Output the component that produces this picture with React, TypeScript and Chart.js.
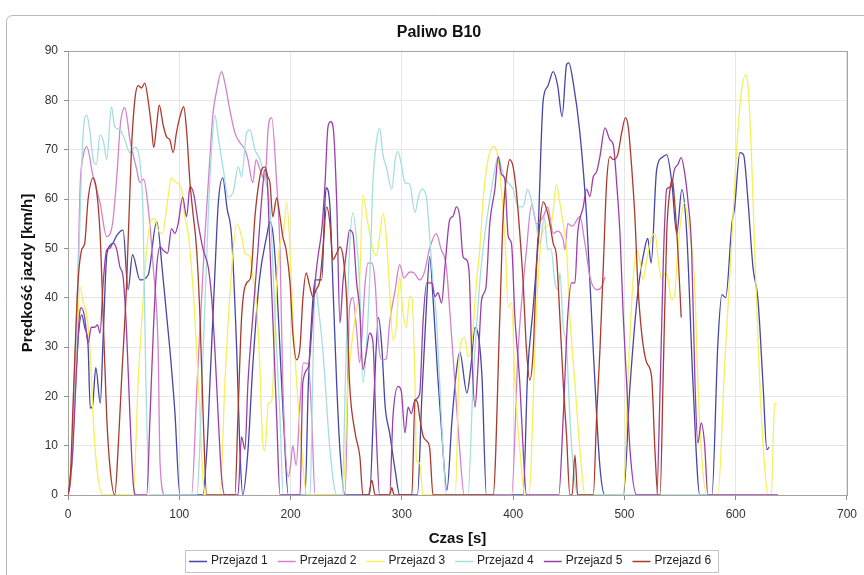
import React, { useEffect, useRef } from 'react';
import { Chart, registerables } from 'chart.js';

Chart.register(...registerables);

const chartTitle = 'Paliwo B10';
const xTitle = 'Czas [s]';
const yTitle = 'Prędkość jazdy [km/h]';
const seriesNames = ['Przejazd 1', 'Przejazd 2', 'Przejazd 3', 'Przejazd 4', 'Przejazd 5', 'Przejazd 6'];
const seriesColors = ['#4646a6', '#d482cc', '#f5ef5a', '#a6dede', '#9b3fa8', '#a93a2c'];
const xTicks = [0, 100, 200, 300, 400, 500, 600, 700];
const yTicks = [0, 10, 20, 30, 40, 50, 60, 70, 80, 90];

// [time s, speed km/h]
const przejazd1: [number, number][] = [
  [0, 0], [3, 5], [6, 19], [9, 31.4], [12.3, 36.5], [15, 34], [18, 30.4], [20, 17.6], [22, 18], [25, 25.8], [29, 18.6], [31.6, 32], [35, 49], [40, 51], [44, 52.7], [49.5, 53.7], [54, 41.6], [58, 48.7], [64.7, 43.6], [72, 44.6], [79.7, 55.4], [85, 45], [91.6, 29.4], [96, 17], [100.6, 0],
  [121, 0], [125, 10], [128, 25], [132, 45], [135, 59], [139, 64.3], [143, 58], [147, 52.4], [151.6, 29.4], [154.5, 9], [157, 0], [161.7, 9], [166, 26], [172, 43.6], [178.5, 52.4], [181.5, 55.4], [184.5, 52.4], [187.5, 43], [190.5, 29.4], [193.5, 15.8], [198, 0],
  [213, 0], [216, 22.7], [219, 36], [222, 43.6], [228, 43.6], [231, 59.8], [232, 62.3], [235.4, 58.4], [238, 43], [241.4, 22.7], [244.4, 9], [249, 0],
  [271, 0], [275, 20], [279, 36], [282, 30], [285, 18], [289, 12.6], [294, 5], [298, 0],
  [314, 0], [318, 20], [322, 38], [325, 48.3], [328, 40], [332, 25], [336, 12], [340.5, 1], [345, 15], [349, 25], [352, 29], [358.5, 20.7], [362, 26], [365.7, 33.9], [369, 32], [372, 24], [376, 0],
  [409, 0], [413, 24.7], [418, 38], [422, 51], [427, 80], [431, 82.8], [436, 85.8], [440, 83], [444, 76.7], [448, 87.2], [450, 87.6], [454, 83.6], [460, 73.4], [466, 56.4], [472, 29.4], [478, 5.7], [482.5, 0],
  [499, 0], [505, 22], [512, 41], [518.5, 50.3], [521, 52], [524, 47], [529, 66], [535, 68.6], [538, 69], [542.6, 63.3], [547, 53], [551.6, 61.9], [556, 53], [561.6, 22.7], [567.8, 0],
  [578.6, 0], [584, 30.8], [587.6, 40.6], [591, 40], [596.6, 55], [599, 58.2], [603.8, 69.4], [607, 69], [611, 59.8], [615.5, 46.2], [620, 39.6], [624.5, 22.7], [628, 9.2], [630, 9.7],
];

const przejazd2: [number, number][] = [
  [0, 0], [3, 5], [6, 25], [9, 45], [11, 63], [13.6, 68.6], [16.8, 70.6], [22.6, 64.5], [28.8, 59.2], [34.7, 52.4], [40, 55], [44, 65], [47, 75], [51, 78.5], [55.7, 72], [61.7, 66], [64.7, 63.3], [68, 64], [72, 58.4], [76.6, 46.2], [81, 29.4], [82.7, 6.5], [87, 0],
  [111, 0], [116, 22.7], [123, 52.4], [127.6, 68.6], [130, 76.7], [133.6, 82], [138, 85.8], [141, 83.5], [145.5, 78], [150, 73.4], [154.5, 71.4], [159, 70], [161.7, 68], [166, 63.3], [169, 68], [172.5, 66], [177, 63.9], [180, 74.6], [183, 76.5], [187.5, 63.3], [190.5, 49.7], [193, 22.7], [198, 3.7], [200, 6], [202, 10], [205, 6], [208.5, 18.6], [211.5, 26.8], [216, 26.5], [219, 15.8], [222, 0],
  [249, 0], [253, 38], [256, 40], [259.6, 32.8], [262, 26.8], [267, 43], [269.5, 47], [273, 47], [276, 43], [279, 30.8], [282, 27.4], [286, 27.6], [289, 34.9], [294, 41.6], [298, 46.7], [302, 44], [307, 45.2], [311, 45], [316, 43.6], [320, 45], [325, 50], [331, 53], [335, 50], [340, 46.2], [343, 37.5], [347.7, 22.7], [352, 9.2], [356, 0],
  [398.6, 0], [404.5, 29.4], [412, 49.7], [416.6, 58.8], [421, 55], [427, 56.4], [431, 58.4], [436, 53], [440, 53.5], [445, 51.7], [446.6, 49.7], [449, 55], [453, 54.5], [460, 56.4], [464.5, 51], [469, 44.2], [475, 41.6], [479.5, 42.2], [482.5, 44.2],
];

const przejazd3: [number, number][] = [
  [0, 0], [4, 10], [8, 30], [10.8, 42.2], [13.6, 39], [16.5, 37], [19.8, 29.4], [22.6, 15.8], [25.8, 5.7], [31.6, 0],
  [58.6, 0], [63, 22.7], [67.5, 39.6], [70.7, 49.7], [75, 55.8], [78, 56], [81, 53.7], [85, 53], [88, 57], [93, 64.3], [96, 63.5], [102, 62], [105, 56.4], [108, 53], [112, 43], [115.6, 29.4], [118.6, 15.8], [121.5, 2.4], [124, 0],
  [136.6, 0], [141, 22.7], [147, 45.6], [151.6, 55], [156, 52.4], [159, 49], [163.5, 48.3], [166, 44.2], [169, 40], [172.5, 25.4], [175, 10.5], [177, 9], [180, 18.6], [183, 19], [187.5, 43], [190.5, 51], [193.5, 53], [196.5, 59.4], [199.5, 49.7], [202, 36], [205.5, 22.7], [210, 9.2], [214.5, 0],
  [247, 0], [251.6, 22.7], [258, 36], [262, 43], [265, 60.8], [269.5, 55], [274, 49.7], [277, 48.5], [280, 52.4], [283, 57.2], [286, 52.4], [289, 41.6], [292, 31.4], [295, 34], [298, 44.2], [301, 37], [304, 34], [307, 40.2], [309, 40], [311.8, 22.7], [313, 7], [316, 6.5], [319, 0],
  [348, 0], [352, 29.4], [356.7, 32], [359.4, 28], [362, 29], [367, 43], [370, 49.7], [373, 59.8], [377.5, 68], [382, 70.6], [385, 70], [388, 65.3], [392.6, 52.4], [395.6, 38], [398.6, 39], [401.6, 22.7], [406, 9.2], [410.6, 0],
  [414, 0], [421, 37.5], [425.6, 52.4], [430, 54.4], [435, 56], [439, 62.9], [442, 59.2], [445, 55], [448, 49.7], [451, 36], [455.5, 22.7], [460, 9.2], [464.5, 0],
  [499, 0], [503, 22.7], [507.6, 43], [511, 49.7], [514, 47.5], [516.7, 43.6], [520, 47.5], [524.5, 52.4], [527.5, 53], [530.5, 47.5], [533.5, 43.6], [536.5, 45], [539, 44], [542.4, 39.6], [545, 40.5], [548, 49.7], [551, 56.4], [554, 59.2], [559, 52.4], [563, 43], [566, 22.7], [569, 9.2], [574, 0],
  [584, 0], [590, 26], [596, 49.7], [600.8, 70], [605, 81.5], [609, 85.2], [611, 83], [614, 70], [617, 49.7], [621.6, 22.7], [626, 5.7], [629, 0], [632, 0], [635, 18.6], [637, 18.5],
];

const przejazd4: [number, number][] = [
  [0, 0], [4, 8], [8, 35], [10.8, 56.4], [13.6, 73.4], [16.8, 77], [19.5, 74], [22.6, 68], [25.5, 67], [28.8, 73], [32, 71.5], [34.8, 68], [39, 78.7], [42, 74.6], [47, 74], [51, 72], [55.7, 69.4], [60, 70.5], [64.7, 67.3], [67.5, 56.4], [70, 22.7], [73.7, 0],
  [115.6, 0], [121.5, 29.4], [126, 56.4], [129, 70], [132, 77], [135, 72.6], [139.5, 66], [144, 60.4], [148.5, 61.5], [153, 66.5], [156, 64.5], [160.5, 73.4], [163.5, 74], [168, 70], [172.5, 68], [177, 64], [181.5, 58.4], [183.5, 49.7], [186, 36], [190.5, 15.8], [193.5, 0],
  [217.5, 0], [220, 25], [222, 43], [225, 38], [229, 29.4], [235.4, 9.2], [241.4, 0],
  [246, 0], [250, 29.4], [253, 49.7], [256, 57.2], [259, 52.4], [262, 43], [265, 22.7], [268, 29.4], [271, 43], [274, 63.3], [277, 71.4], [280, 74.4], [283, 69], [286, 66.5], [291, 62], [294, 68], [296.6, 69.6], [299.5, 67], [302.8, 63.3], [307, 63], [311.8, 57.2], [314.5, 60], [317.8, 62], [322, 60.5], [325, 52.4], [328, 43], [331, 36], [334, 22.7], [337, 9.2], [340, 0],
  [359.4, 0], [364, 22.7], [370, 43], [374.6, 53], [379, 59.8], [382, 64], [386.6, 68.6], [391, 65], [395.6, 63.3], [400, 62], [404.5, 58.4], [409, 58.4], [413, 62], [416, 60], [419.6, 56.4], [424, 51], [428, 56.4], [431, 49.7], [434, 50], [437.6, 43], [440.5, 41.6], [442, 45], [445, 34], [448, 30], [451, 15.8], [454, 5.7], [458, 0],
  [578, 0],
];

const przejazd5: [number, number][] = [
  [0, 0], [4, 8], [7.8, 26], [10.8, 37.5], [12, 38], [15, 36], [18, 30.8], [21, 34], [24, 34], [26.5, 34.5], [28.8, 32.8], [31.6, 43], [34.8, 49.7], [37.5, 50], [40.5, 51], [43.5, 50], [46.7, 46.2], [49.5, 44.2], [52.7, 32.8], [55.7, 15.8], [58.6, 2.4], [61, 0],
  [70.7, 0], [73.7, 15.8], [76.6, 32.8], [79.7, 46.2], [82.7, 50.3], [86, 49.5], [89.5, 49], [93, 54], [96, 53], [99, 55], [103, 60.4], [106.6, 56.4], [109.6, 62.5], [113, 61], [117, 55], [121.5, 49.7], [126, 46.2], [129, 40.2], [132, 29.4], [135, 15.8], [138, 3.7], [141, 0],
  [152.7, 0], [156, 11.8], [159, 9.2], [161.7, 22.7], [166, 36], [170.7, 49.7], [174, 59.8], [177, 66], [179, 64], [181.5, 49.7], [184, 36], [187.5, 15.8], [190.5, 0],
  [208.5, 0], [211, 22.7], [216, 26], [222, 43], [224.6, 48.3], [228, 53.7], [231, 63.3], [233.6, 74.6], [236, 75.7], [238.5, 74], [241.4, 59.8], [244.4, 34.9], [247, 43], [250.4, 49.7], [253, 53.7], [256, 53], [259.4, 43], [262, 38], [265, 25.4], [268, 28.8], [271, 32.8], [274, 31], [277, 12.6], [280, 0],
  [289, 0], [292, 15.8], [296.6, 22], [299.5, 21], [302.8, 12.6], [305.6, 17.8], [308.5, 16.5], [311.8, 19.3], [316, 20.5], [319, 34.9], [322.3, 43], [327, 43], [329.7, 40.2], [332.5, 41], [335.7, 38.9], [338.7, 46.2], [343, 55.8], [346, 56.5], [349, 58.4], [352, 56.4], [355, 48.3], [358, 47.7], [360.5, 45], [362.7, 29.4], [365.7, 17.8], [368.4, 26], [371.7, 39.6], [375.5, 42], [379, 55], [383.6, 62], [386.6, 68.6], [389.5, 65], [392.5, 64], [395.6, 52.4], [398.5, 51], [401.6, 36], [406, 22.7], [409, 9.2], [412, 0],
  [441, 0], [445, 15.8], [449, 36], [452.5, 43], [455.5, 43], [458, 53], [463, 58.4], [466, 62], [469, 60.5], [472, 64.5], [475, 65.5], [478, 68.6], [482.5, 74.4], [487, 72], [490, 71], [493, 63.3], [496, 53], [499, 36], [502, 22.7], [505, 9.2], [511, 0],
  [529, 0], [532, 21], [535, 47.7], [538, 62], [542, 62.5], [545, 66], [548, 67], [551, 68.4], [554, 65.5], [557, 59.8], [560.4, 49.7], [563.4, 22.7], [566, 10.5], [569, 14.6], [572, 10.5], [575, 0],
  [638, 0],
];

const przejazd6: [number, number][] = [
  [0, 0], [2, 3], [4.7, 19.3], [9, 43], [12.3, 49.7], [15, 51], [18, 59.8], [22.6, 64.3], [25.5, 62], [28.8, 53], [31.6, 36], [34.8, 15.8], [37.7, 5.7], [42, 0], [45, 9.2], [48, 22.7], [52.7, 43], [57, 70], [60, 80], [63, 83], [66, 82.5], [69, 83.5], [72, 80], [75, 74.6], [77, 70.4], [79.5, 74.6], [82, 79], [85.5, 75], [88.6, 72.6], [91.5, 72], [94.5, 69.4], [97.5, 73.5], [100.6, 76.7], [104, 78.7], [106.5, 74], [109.6, 63.3], [112, 57.8], [115.6, 49.7], [118.6, 36], [121.5, 15.8], [124.6, 0],
  [150, 0], [152.7, 15.8], [156, 36], [160.5, 43], [164, 44], [168, 56.4], [170.7, 62], [174, 66], [177, 66.5], [179.5, 64.5], [181.5, 63.3], [184, 56.4], [187.5, 60.2], [190.5, 56.4], [193, 52.4], [196, 49.7], [199.5, 43], [202, 32.8], [205.5, 27.4], [208.5, 30], [211, 39.6], [214, 45], [217, 42.5], [220, 40.2], [223, 41.6], [226.4, 43.6], [229, 49.7], [232.4, 58.4], [235.4, 55], [238, 47.7], [241.4, 49], [244.4, 50.3], [247.4, 48], [250.4, 39.6], [253, 22.7], [258, 12.6], [262.3, 7.7], [265, 0],
  [270, 0], [273, 3], [276, 0], [289, 0], [291, 1.5], [293, 0], [309, 0], [311.8, 19.3], [314, 18.8], [316, 15.8], [319, 12], [322, 11], [325, 9.5], [328, 0],
  [382, 0], [388, 36], [391, 56.4], [394, 64.5], [397, 68], [400, 66.5], [403, 61.3], [406, 53], [409, 43], [412, 29.4], [415, 23.3], [418, 29], [421, 46.2], [424, 55], [427, 59.4], [430, 58], [433, 55], [436, 51], [439, 48.3], [442, 36], [445, 22.7], [448, 12], [451, 0], [453, 0], [455.5, 8.1], [458, 0],
  [472, 0], [475, 15.8], [478, 29.4], [481, 46.2], [484, 63.3], [487, 68.6], [490, 68], [494, 69], [497.5, 73.4], [501, 76.5], [503.5, 74.5], [506.5, 66.5], [509.4, 56.4], [512, 43], [515.5, 32.8], [520, 26.8], [524.4, 24], [527.4, 9.2], [530, 0],
  [532, 0], [535, 26], [538, 53], [541, 62], [543, 64], [545, 59.8], [548, 49.7], [551, 36],
];

const allSeries = [przejazd1, przejazd2, przejazd3, przejazd4, przejazd5, przejazd6];

const FONT = '"Liberation Sans", Arial, sans-serif';

const decorPlugin = {
  id: 'decor',
  beforeDraw(chart: any) {
    const { ctx, width, height } = chart;
    ctx.save();
    ctx.fillStyle = '#ffffff';
    ctx.fillRect(0, 0, width, height);
    ctx.strokeStyle = '#b8b8b8';
    ctx.lineWidth = 1;
    ctx.beginPath();
    if (ctx.roundRect) ctx.roundRect(6.5, 15.5, 900, 620, 6);
    else ctx.rect(6.5, 15.5, 900, 620);
    ctx.stroke();
    ctx.restore();
  },
  beforeDatasetsDraw(chart: any) {
    const { ctx, chartArea: a } = chart;
    ctx.save();
    ctx.strokeStyle = '#a4a4a4';
    ctx.lineWidth = 1;
    ctx.strokeRect(Math.round(a.left) + 0.5, Math.round(a.top) + 0.5, Math.round(a.right - a.left), Math.round(a.bottom - a.top));
    ctx.restore();
  },
  afterDraw(chart: any) {
    const { ctx } = chart;
    ctx.save();
    ctx.font = `bold 16px ${FONT}`;
    ctx.fillStyle = '#111111';
    ctx.textAlign = 'center';
    ctx.textBaseline = 'middle';
    ctx.fillText(chartTitle, 439, 33);

    // legend
    const y = 561;
    let x = 189;
    ctx.font = `12px ${FONT}`;
    ctx.textAlign = 'left';
    ctx.textBaseline = 'middle';
    seriesNames.forEach((name, i) => {
      ctx.strokeStyle = seriesColors[i];
      ctx.lineWidth = 1.5;
      ctx.beginPath();
      ctx.moveTo(x, y + 0.5);
      ctx.lineTo(x + 18, y + 0.5);
      ctx.stroke();
      ctx.fillStyle = '#222222';
      ctx.fillText(name, x + 22, y);
      x += 22 + ctx.measureText(name).width + 10;
    });
    ctx.strokeStyle = '#c4c4c4';
    ctx.lineWidth = 1;
    ctx.strokeRect(185.5, 550.5, 533, 22);
    ctx.restore();
  },
};

export default function App() {
  const canvasRef = useRef<HTMLCanvasElement | null>(null);

  useEffect(() => {
    const canvas = canvasRef.current;
    if (!canvas) return;
    const chart = new Chart(canvas, {
      type: 'line',
      data: {
        datasets: allSeries.map((s, i) => ({
          label: seriesNames[i],
          data: s.map(([x, y]) => ({ x, y })),
          borderColor: seriesColors[i],
          backgroundColor: seriesColors[i],
          borderWidth: 1.3,
          pointRadius: 0,
          fill: false,
          cubicInterpolationMode: 'monotone' as const,
          order: 6 - i,
        })),
      },
      options: {
        responsive: false,
        animation: false,
        events: [],
        layout: { padding: { top: 51, left: 6, right: 17, bottom: 0 } },
        plugins: {
          legend: { display: false },
          title: { display: false },
          tooltip: { enabled: false },
        },
        scales: {
          x: {
            type: 'linear',
            min: xTicks[0],
            max: xTicks[xTicks.length - 1],
            afterBuildTicks: (scale: any) => {
              scale.ticks = xTicks.map((v) => ({ value: v }));
            },
            afterFit: (scale: any) => {
              scale.height = 80;
            },
            ticks: {
              color: '#333333',
              font: { size: 12, family: FONT },
              padding: 7,
              maxRotation: 0,
            },
            grid: { color: '#e6e6e6', tickColor: '#8c8c8c', tickLength: 5 },
            border: { color: '#8c8c8c' },
            title: {
              display: true,
              text: xTitle,
              color: '#111111',
              font: { size: 15, weight: 'bold', family: FONT },
              padding: { top: 0, bottom: 27 },
            },
          },
          y: {
            type: 'linear',
            min: yTicks[0],
            max: yTicks[yTicks.length - 1],
            afterBuildTicks: (scale: any) => {
              scale.ticks = yTicks.map((v) => ({ value: v }));
            },
            afterFit: (scale: any) => {
              scale.width = 62;
            },
            ticks: {
              color: '#333333',
              font: { size: 12, family: FONT },
              padding: 6,
            },
            grid: { color: '#e6e6e6', tickColor: '#8c8c8c', tickLength: 4 },
            border: { color: '#8c8c8c' },
            title: {
              display: true,
              text: yTitle,
              color: '#111111',
              font: { size: 15, weight: 'bold', family: FONT },
              padding: { top: 13, bottom: 0 },
            },
          },
        },
      },
      plugins: [decorPlugin],
    });
    return () => chart.destroy();
  }, []);

  return (
    <div style={{ position: 'absolute', left: 0, top: 0, width: 864, height: 575, background: '#fff' }}>
      <canvas ref={canvasRef} width={864} height={575} style={{ display: 'block', width: 864, height: 575 }} />
    </div>
  );
}
